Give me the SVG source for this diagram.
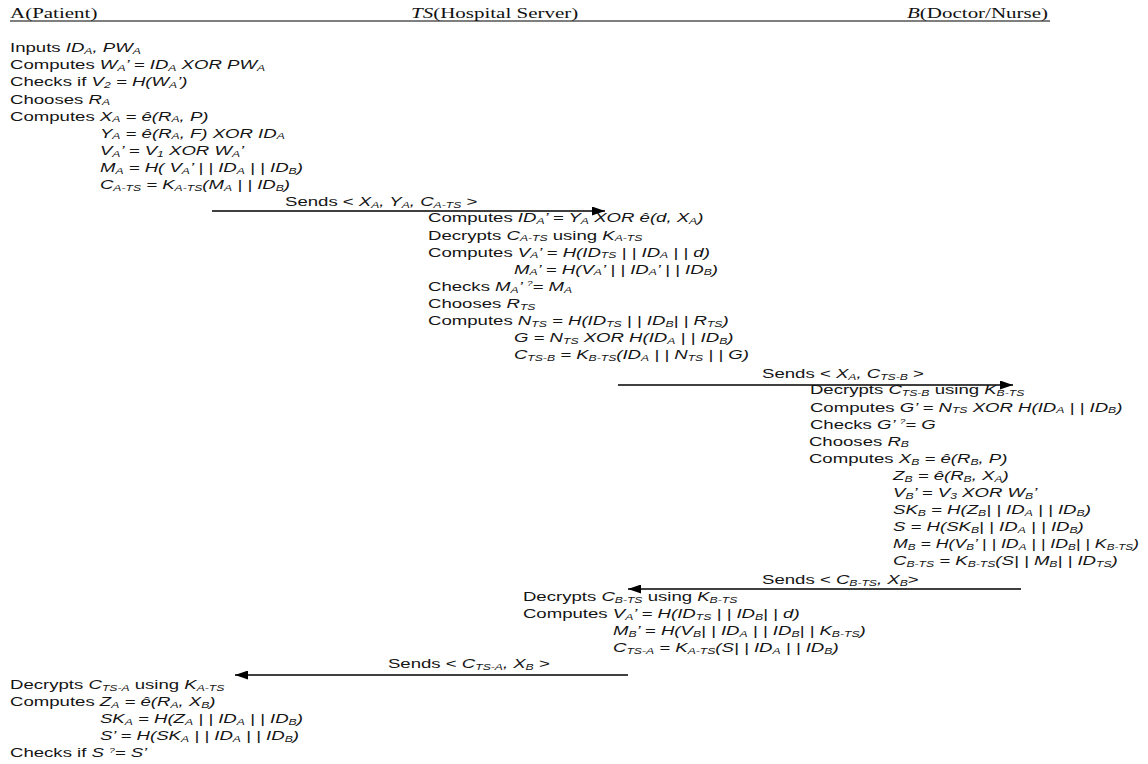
<svg xmlns="http://www.w3.org/2000/svg" width="1148" height="764" viewBox="0 0 1148 764">
<defs>
<marker id="ah" markerWidth="13" markerHeight="9" refX="13" refY="4.5" orient="auto" markerUnits="userSpaceOnUse"><path d="M0,0 L13,4.5 L0,9 z" fill="#000"/></marker>
</defs>
<style>
.h{font-family:"Liberation Serif","Times New Roman",serif;font-size:14px;fill:#111}
.t{font-family:"Liberation Sans",Arial,sans-serif;font-size:13px;fill:#151515}
.i{font-style:italic}
.s{font-size:8.5px;baseline-shift:-2px}
.q{font-size:7px;baseline-shift:5px}
.c{stroke:#000;stroke-width:1.3;fill:none}
</style>
<rect width="1148" height="764" fill="#fff"/>
<g id="headers">
<line x1="10" y1="21" x2="1050" y2="21" stroke="#000" stroke-width="1.2"/>
<g transform="scale(1.5 1)">
<text id="head-A" class="h" x="6.67" y="18">A(Patient)</text>
<text id="head-TS" class="h" x="274" y="18"><tspan class="i">TS</tspan>(Hospital Server)</text>
<text id="head-B" class="h" x="604.7" y="18"><tspan class="i">B</tspan>(Doctor/Nurse)</text>
</g>
</g>
<g id="connectors">
<path class="c" d="M212,211 H605" marker-end="url(#ah)"/>
<path class="c" d="M618,385 H1013" marker-end="url(#ah)"/>
<path class="c" d="M1021,589 H628" marker-end="url(#ah)"/>
<path class="c" d="M628,675 H235" marker-end="url(#ah)"/>
</g>
<g transform="scale(1.43 1)">
<g id="msg-labels">
<text class="t" x="199.3" y="206.5">Sends &lt; <tspan class="i">X<tspan class="s">A</tspan>, Y<tspan class="s">A</tspan>, C<tspan class="s">A-TS</tspan></tspan> &gt;</text>
<text class="t" x="532.9" y="378.5">Sends &lt; <tspan class="i">X<tspan class="s">A</tspan>, C<tspan class="s">TS-B</tspan></tspan> &gt;</text>
<text class="t" x="532.9" y="584.5">Sends &lt; <tspan class="i">C<tspan class="s">B-TS</tspan>, X<tspan class="s">B</tspan></tspan>&gt;</text>
<text class="t" x="271.3" y="668.5">Sends &lt; <tspan class="i">C<tspan class="s">TS-A</tspan>, X<tspan class="s">B</tspan></tspan> &gt;</text>
</g>
<g id="patient-step1">
<text class="t" x="7" y="52.3">Inputs <tspan class="i">ID<tspan class="s">A</tspan>, PW<tspan class="s">A</tspan></tspan></text>
<text class="t" x="7" y="69.4">Computes <tspan class="i">W<tspan class="s">A</tspan>’ = ID<tspan class="s">A</tspan> XOR PW<tspan class="s">A</tspan></tspan></text>
<text class="t" x="7" y="86.5">Checks if <tspan class="i">V<tspan class="s">2</tspan> = H(W<tspan class="s">A</tspan>’)</tspan></text>
<text class="t" x="7" y="103.6">Chooses <tspan class="i">R<tspan class="s">A</tspan></tspan></text>
<text class="t" x="7" y="120.7">Computes <tspan class="i">X<tspan class="s">A</tspan> = ê(R<tspan class="s">A</tspan>, P)</tspan></text>
<text class="t i" x="69.9" y="137.8">Y<tspan class="s">A</tspan> = ê(R<tspan class="s">A</tspan>, F) XOR ID<tspan class="s">A</tspan></text>
<text class="t i" x="69.9" y="154.9">V<tspan class="s">A</tspan>’ = V<tspan class="s">1</tspan> XOR  W<tspan class="s">A</tspan>’</text>
<text class="t i" x="69.9" y="172">M<tspan class="s">A</tspan> = H( V<tspan class="s">A</tspan>’ | | ID<tspan class="s">A</tspan> | | ID<tspan class="s">B</tspan>)</text>
<text class="t i" x="69.9" y="189.1">C<tspan class="s">A-TS</tspan> = K<tspan class="s">A-TS</tspan>(M<tspan class="s">A</tspan> | | ID<tspan class="s">B</tspan>)</text>
</g>
<g id="server-step1">
<text class="t" x="299.3" y="222.5">Computes <tspan class="i">ID<tspan class="s">A</tspan>’ = Y<tspan class="s">A</tspan> XOR ê(d, X<tspan class="s">A</tspan>)</tspan></text>
<text class="t" x="299.3" y="239.6">Decrypts <tspan class="i">C<tspan class="s">A-TS</tspan></tspan> using <tspan class="i">K<tspan class="s">A-TS</tspan></tspan></text>
<text class="t" x="299.3" y="256.7">Computes <tspan class="i">V<tspan class="s">A</tspan>’ = H(ID<tspan class="s">TS</tspan> | | ID<tspan class="s">A</tspan> | | d)</tspan></text>
<text class="t i" x="359.4" y="273.8">M<tspan class="s">A</tspan>’ = H(V<tspan class="s">A</tspan>’ | | ID<tspan class="s">A</tspan>’ | | ID<tspan class="s">B</tspan>)</text>
<text class="t" x="299.3" y="290.9">Checks <tspan class="i">M<tspan class="s">A</tspan>’ <tspan class="q">?</tspan>= M<tspan class="s">A</tspan></tspan></text>
<text class="t" x="299.3" y="308">Chooses <tspan class="i">R<tspan class="s">TS</tspan></tspan></text>
<text class="t" x="299.3" y="325.1">Computes <tspan class="i">N<tspan class="s">TS</tspan> = H(ID<tspan class="s">TS</tspan> | | ID<tspan class="s">B</tspan>| | R<tspan class="s">TS</tspan>)</tspan></text>
<text class="t i" x="359.4" y="342.2">G = N<tspan class="s">TS</tspan> XOR H(ID<tspan class="s">A</tspan> | | ID<tspan class="s">B</tspan>)</text>
<text class="t i" x="359.4" y="359.3">C<tspan class="s">TS-B</tspan> = K<tspan class="s">B-TS</tspan>(ID<tspan class="s">A</tspan> | | N<tspan class="s">TS</tspan> | | G)</text>
</g>
<g id="doctor-step">
<text class="t" x="566.4" y="394.5">Decrypts <tspan class="i">C<tspan class="s">TS-B</tspan></tspan> using <tspan class="i">K<tspan class="s">B-TS</tspan></tspan></text>
<text class="t" x="566.4" y="411.6">Computes <tspan class="i">G’ = N<tspan class="s">TS</tspan> XOR  H(ID<tspan class="s">A</tspan> | | ID<tspan class="s">B</tspan>)</tspan></text>
<text class="t" x="566.4" y="428.7">Checks <tspan class="i">G’ <tspan class="q">?</tspan>= G</tspan></text>
<text class="t" x="565.7" y="445.8">Chooses <tspan class="i">R<tspan class="s">B</tspan></tspan></text>
<text class="t" x="565.7" y="462.9">Computes <tspan class="i">X<tspan class="s">B</tspan> = ê(R<tspan class="s">B</tspan>, P)</tspan></text>
<text class="t i" x="624.5" y="480">Z<tspan class="s">B</tspan> = ê(R<tspan class="s">B</tspan>, X<tspan class="s">A</tspan>)</text>
<text class="t i" x="624.5" y="497.1">V<tspan class="s">B</tspan>’ = V<tspan class="s">3</tspan> XOR W<tspan class="s">B</tspan>’</text>
<text class="t i" x="624.5" y="514.2">SK<tspan class="s">B</tspan> = H(Z<tspan class="s">B</tspan>| | ID<tspan class="s">A</tspan> | | ID<tspan class="s">B</tspan>)</text>
<text class="t i" x="624.5" y="531.3">S = H(SK<tspan class="s">B</tspan>| | ID<tspan class="s">A</tspan> | | ID<tspan class="s">B</tspan>)</text>
<text class="t i" x="624.5" y="548.4" textLength="172" lengthAdjust="spacingAndGlyphs">M<tspan class="s">B</tspan> = H(V<tspan class="s">B</tspan>’ | | ID<tspan class="s">A</tspan> | | ID<tspan class="s">B</tspan>| | K<tspan class="s">B-TS</tspan>)</text>
<text class="t i" x="624.5" y="565.5">C<tspan class="s">B-TS</tspan> = K<tspan class="s">B-TS</tspan>(S| | M<tspan class="s">B</tspan>| | ID<tspan class="s">TS</tspan>)</text>
</g>
<g id="server-step2">
<text class="t" x="365.7" y="601">Decrypts <tspan class="i">C<tspan class="s">B-TS</tspan></tspan> using <tspan class="i">K<tspan class="s">B-TS</tspan></tspan></text>
<text class="t" x="365.7" y="618.1">Computes <tspan class="i">V<tspan class="s">A</tspan>’ = H(ID<tspan class="s">TS</tspan> | | ID<tspan class="s">B</tspan>| | d)</tspan></text>
<text class="t i" x="428.7" y="635.2">M<tspan class="s">B</tspan>’ = H(V<tspan class="s">B</tspan>| | ID<tspan class="s">A</tspan> | | ID<tspan class="s">B</tspan>| | K<tspan class="s">B-TS</tspan>)</text>
<text class="t i" x="428.7" y="652.3">C<tspan class="s">TS-A</tspan> = K<tspan class="s">A-TS</tspan>(S| | ID<tspan class="s">A</tspan> | | ID<tspan class="s">B</tspan>)</text>
</g>
<g id="patient-step2">
<text class="t" x="7" y="689">Decrypts <tspan class="i">C<tspan class="s">TS-A</tspan></tspan> using <tspan class="i">K<tspan class="s">A-TS</tspan></tspan></text>
<text class="t" x="7" y="706.1">Computes <tspan class="i">Z<tspan class="s">A</tspan> = ê(R<tspan class="s">A</tspan>, X<tspan class="s">B</tspan>)</tspan></text>
<text class="t i" x="69.9" y="723.2">SK<tspan class="s">A</tspan> = H(Z<tspan class="s">A</tspan>  | | ID<tspan class="s">A</tspan> | | ID<tspan class="s">B</tspan>)</text>
<text class="t i" x="69.9" y="740.3">S’ = H(SK<tspan class="s">A</tspan> | | ID<tspan class="s">A</tspan> | | ID<tspan class="s">B</tspan>)</text>
<text class="t" x="7" y="757.4">Checks if <tspan class="i">S <tspan class="q">?</tspan>= S’</tspan></text>
</g>
</g>
</svg>
